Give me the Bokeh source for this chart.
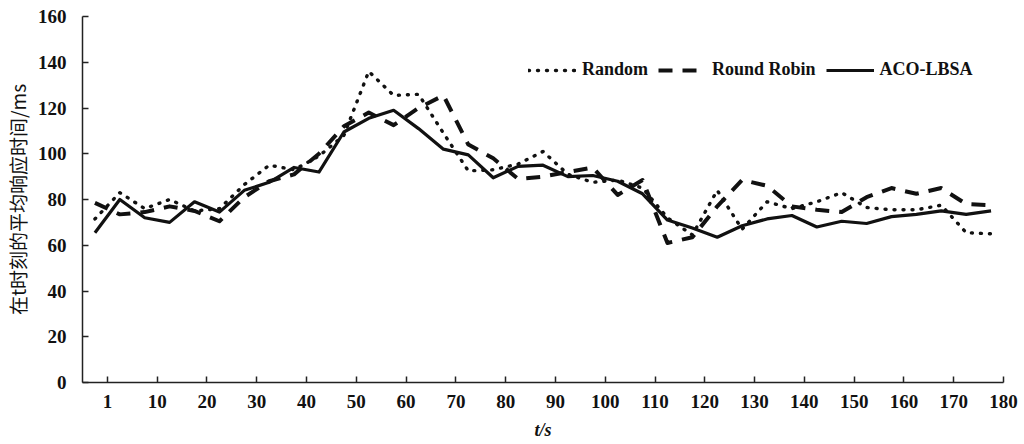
from bokeh.plotting import figure
from bokeh.models import Range1d, FixedTicker, Legend, LegendItem
from bokeh.embed import file_html
from bokeh.resources import INLINE

# time points (s) - category axis
t_values = [1] + list(range(5, 181, 5))
tick_labels = ["1", "10", "20", "30", "40", "50", "60", "70", "80", "90",
               "100", "110", "120", "130", "140", "150", "160", "170", "180"]

random_ms = [71.5, 83, 76, 80, 75, 76, 86.5, 95, 93, 99, 108, 136, 125.5, 126, 109,
             92.5, 93, 95.5, 101, 91, 87.5, 88.5, 85, 72, 64.5, 84, 67, 79, 76, 79,
             83, 76.5, 75.5, 75.5, 77.5, 65.5, 65]
round_robin_ms = [78.5, 73.5, 74.5, 77, 75, 70.5, 81, 88, 91, 100, 112, 118, 112.5, 120,
                  125.5, 104, 98, 89, 90, 92, 94, 82, 88.5, 61, 63.5, 77, 88.5, 86, 77,
                  75.5, 74.5, 81, 85, 82.5, 85, 78, 77.5]
aco_lbsa_ms = [65.5, 80, 72, 70, 79, 74.5, 84, 87.5, 94, 92, 109.5, 115.5, 119, 111, 102,
               99.5, 89.5, 94.5, 95, 90, 90.5, 88, 82.5, 71, 67.5, 63.5, 68.5, 71.5, 73,
               68, 70.5, 69.5, 72.5, 73.5, 75, 73.5, 75]

x = [i + 0.5 for i in range(len(t_values))]
tick_pos = [1 + 2 * k for k in range(len(tick_labels))]

SERIF = "Liberation Serif"
INK = "#111111"

p = figure(width=1024, height=444, output_backend="svg", toolbar_location=None,
           x_range=Range1d(0, 37), y_range=Range1d(0, 160),
           min_border_left=77, min_border_right=21, min_border_top=16, min_border_bottom=62)
p.outline_line_color = None
p.xgrid.grid_line_color = None
p.ygrid.grid_line_color = None
p.background_fill_color = "white"
p.border_fill_color = "white"

p.xaxis.ticker = FixedTicker(ticks=tick_pos)
p.xaxis.major_label_overrides = {tp: lab for tp, lab in zip(tick_pos, tick_labels)}
p.yaxis.ticker = FixedTicker(ticks=list(range(0, 161, 20)))

for ax in (p.xaxis, p.yaxis):
    ax.axis_line_color = "#222222"
    ax.axis_line_width = 1.5
    ax.major_tick_line_color = "#222222"
    ax.major_tick_line_width = 1.5
    ax.major_tick_in = 6
    ax.major_tick_out = 0
    ax.minor_tick_line_color = None
    ax.major_label_text_font = SERIF
    ax.major_label_text_font_style = "bold"
    ax.major_label_text_font_size = "19px"
    ax.major_label_text_color = INK

p.xaxis.major_label_standoff = 12
p.yaxis.major_label_standoff = 16

p.xaxis.axis_label = "t/s"
p.xaxis.axis_label_text_font = SERIF
p.xaxis.axis_label_text_font_style = "bold italic"
p.xaxis.axis_label_text_font_size = "18px"
p.xaxis.axis_label_text_color = INK
p.xaxis.axis_label_standoff = 9

p.yaxis.axis_label = "在t时刻的平均响应时间/ms"
p.yaxis.axis_label_text_font = "Noto Sans CJK SC"
p.yaxis.axis_label_text_font_style = "normal"
p.yaxis.axis_label_text_font_size = "19px"
p.yaxis.axis_label_text_color = INK
p.yaxis.axis_label_standoff = 4

r_rand = p.line(x, random_ms, line_color=INK, line_width=3.4, line_dash="1 8",
                line_cap="round", line_join="round")
r_rr = p.line(x, round_robin_ms, line_color=INK, line_width=4, line_dash="14 10",
              line_join="round")
r_aco = p.line(x, aco_lbsa_ms, line_color=INK, line_width=3.2, line_join="round")

legend = Legend(items=[LegendItem(label="Random", renderers=[r_rand]),
                       LegendItem(label="Round Robin", renderers=[r_rr]),
                       LegendItem(label="ACO-LBSA", renderers=[r_aco])],
                orientation="horizontal", location=(446, 302),
                padding=0, margin=0, spacing=10, glyph_width=48, glyph_height=20,
                label_height=20, label_standoff=6,
                border_line_alpha=0, background_fill_alpha=0,
                label_text_font=SERIF, label_text_font_style="bold",
                label_text_font_size="18px", label_text_color=INK)
p.add_layout(legend)

open("out.html", "w").write(file_html(p, INLINE))
